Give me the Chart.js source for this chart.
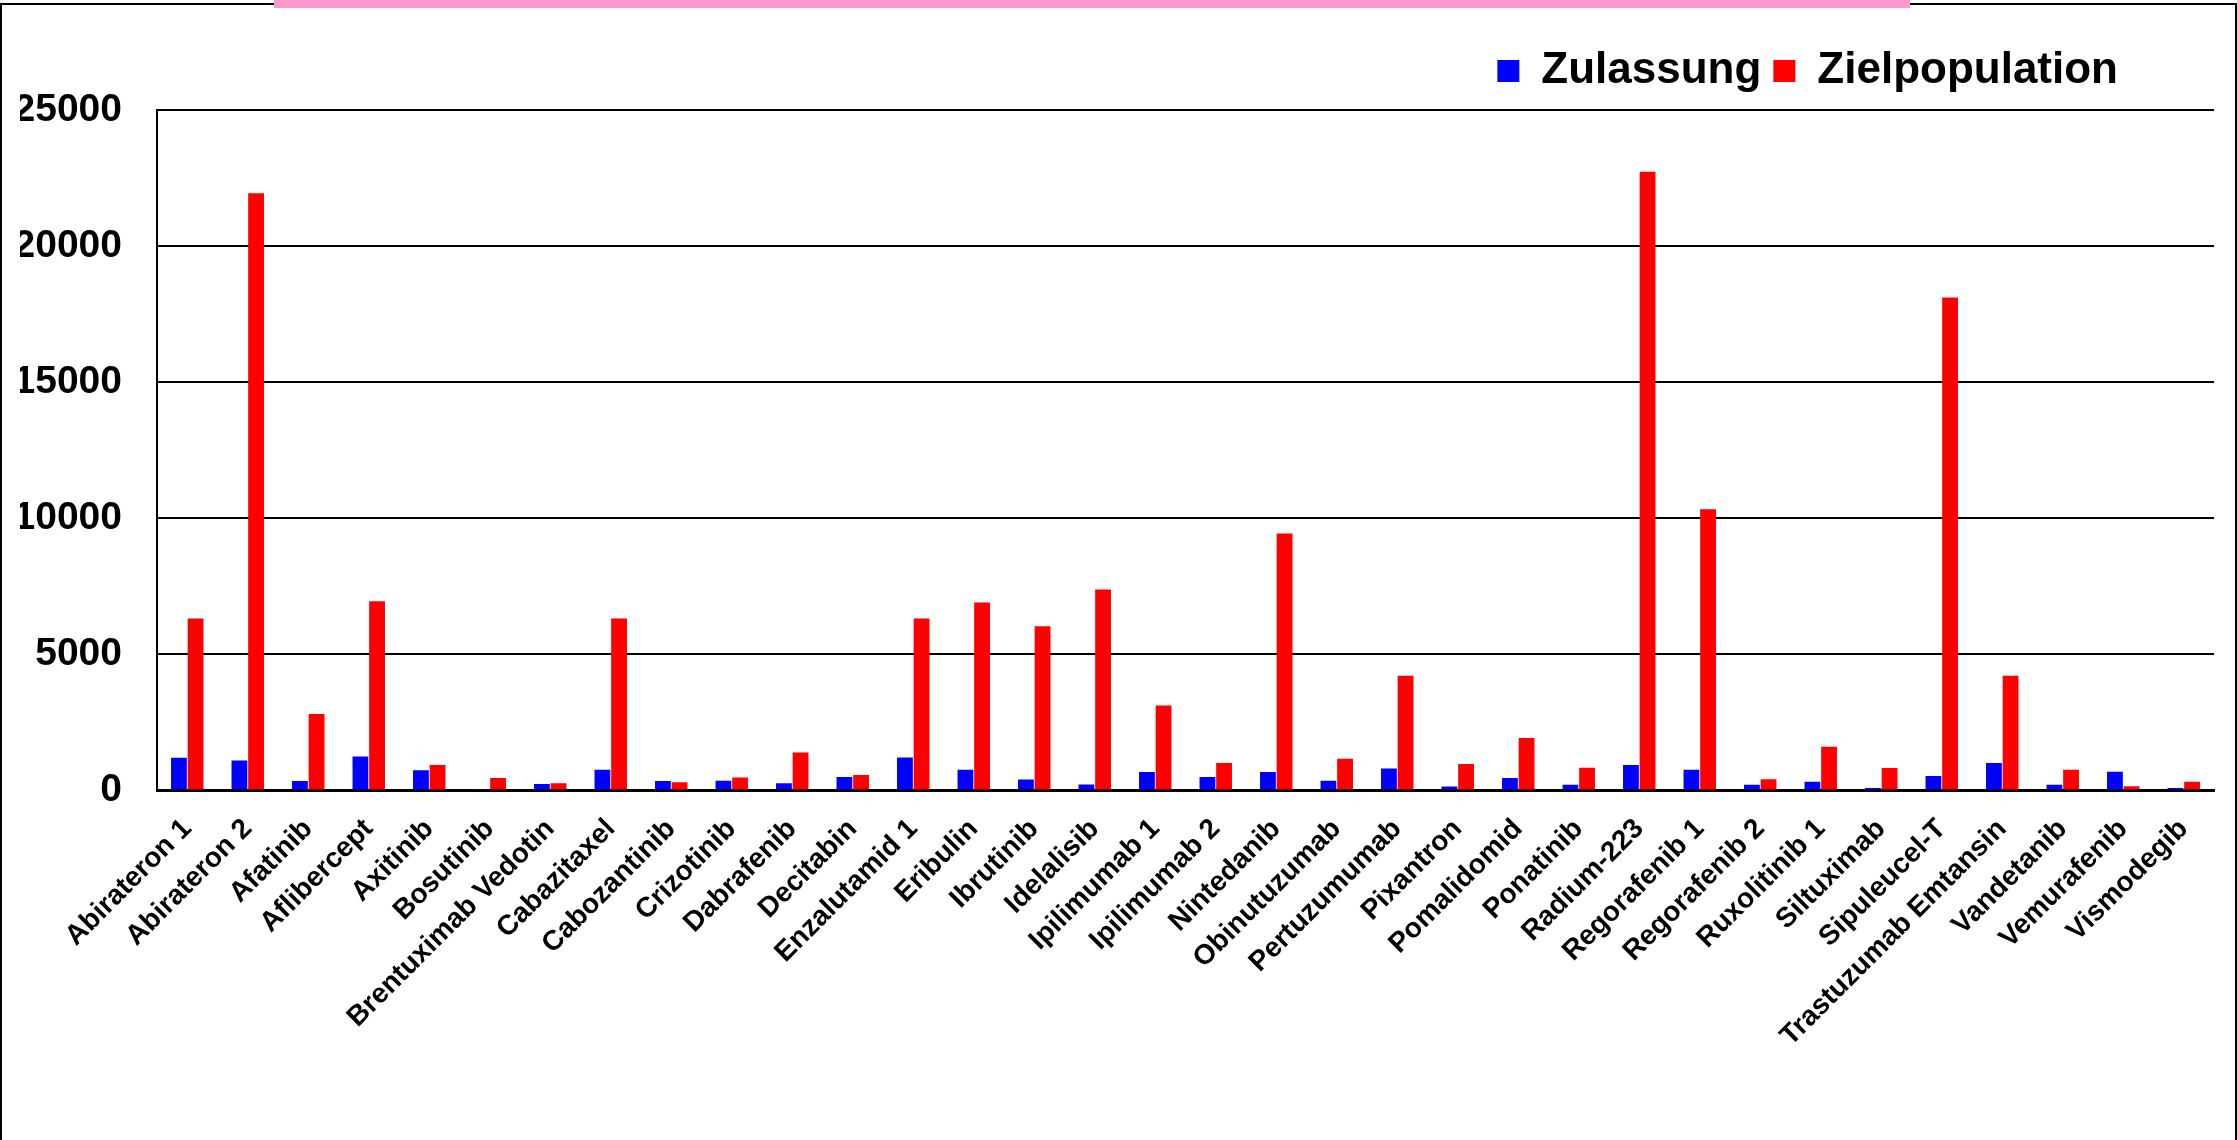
<!DOCTYPE html>
<html>
<head>
<meta charset="utf-8">
<script src="https://cdn.jsdelivr.net/npm/chart.js@4"></script>
<style>
	body { margin: 0; background: #fff; }
	#wrap { position: relative; width: 2237px; height: 1140px; overflow: hidden; }
	#frame { position: absolute; left: 0; top: 3px; width: 2233px; height: 1200px; border: 2px solid #000; border-bottom: none; pointer-events: none; }
	#topbar { position: absolute; left: 274px; top: 0; width: 1636px; height: 8px; background: #ff99cc; pointer-events: none; }
</style>
</head>
<body>
<div id="wrap">
	<canvas id="graph" width="2237" height="1140"></canvas>
	<div id="frame"></div>
	<div id="topbar"></div>
</div>
<script>
	const categories = [
		"Abirateron 1", "Abirateron 2", "Afatinib", "Aflibercept", "Axitinib", "Bosutinib",
		"Brentuximab Vedotin", "Cabazitaxel", "Cabozantinib", "Crizotinib", "Dabrafenib",
		"Decitabin", "Enzalutamid 1", "Eribulin", "Ibrutinib", "Idelalisib", "Ipilimumab 1",
		"Ipilimumab 2", "Nintedanib", "Obinutuzumab", "Pertuzumumab", "Pixantron",
		"Pomalidomid", "Ponatinib", "Radium-223", "Regorafenib 1", "Regorafenib 2",
		"Ruxolitinib 1", "Siltuximab", "Sipuleucel-T", "Trastuzumab Emtansin", "Vandetanib",
		"Vemurafenib", "Vismodegib"
	];

	const zulassung = [
		1200, 1100, 350, 1250, 740, 50, 240, 760, 350, 360, 270, 500, 1210, 760, 400, 220, 680,
		500, 680, 360, 810, 150, 460, 210, 940, 760, 210, 320, 90, 530, 1010, 210, 690, 90
	];

	const zielpopulation = [
		6320, 21940, 2810, 6950, 940, 460, 270, 6320, 300, 480, 1400, 570, 6320, 6910, 6030, 7380, 3120,
		1010, 9440, 1170, 4220, 970, 1930, 840, 22730, 10330, 410, 1610, 830, 18110, 4220, 760, 160, 320
	];

	const yTicks = [0, 5000, 10000, 15000, 20000, 25000];

	const fontFamily = '"Liberation Sans", Arial, sans-serif';

	// nudge the legend to where it sits in the original
	const legendShift = {
		id: 'legendShift',
		afterLayout(chart) {
			const legend = chart.legend;
			legend.left -= 84;
			legend.right -= 84;
			legend.top -= 7;
			legend.bottom -= 7;
		}
	};

	new Chart(document.querySelector('#graph'), {
		type: 'bar',
		data: {
			labels: categories,
			datasets: [{
				label: 'Zulassung',
				data: zulassung,
				backgroundColor: '#0000ff',
				borderWidth: 0,
			}, {
				label: 'Zielpopulation',
				data: zielpopulation,
				backgroundColor: '#ff0000',
				borderWidth: 0,
			}]
		},
		options: {
			responsive: false,
			animation: false,
			devicePixelRatio: 1,
			categoryPercentage: 0.55,
			barPercentage: 0.95,
			layout: {
				padding: {top: 44, left: 20, right: 23, bottom: 65}
			},
			plugins: {
				legend: {
					position: 'top',
					align: 'end',
					labels: {
						boxWidth: 22,
						boxHeight: 22,
						padding: 12,
						color: '#000',
						font: {family: fontFamily, size: 44, weight: 'bold'}
					}
				},
				tooltip: {
					enabled: false
				}
			},
			scales: {
				x: {
					afterFit: (axis) => {
						axis.paddingLeft = 0;
						axis.paddingRight = 0;
					},
					grid: {
						display: false,
						drawTicks: false
					},
					border: {
						color: '#000',
						width: 3
					},
					ticks: {
						autoSkip: false,
						minRotation: 45,
						maxRotation: 45,
						padding: 22,
						color: '#000',
						font: {family: fontFamily, size: 28, weight: 'bold'}
					}
				},
				y: {
					min: 0,
					max: 25000,
					afterBuildTicks: (axis) => {
						axis.ticks = yTicks.map(v => ({value: v}));
					},
					afterFit: (axis) => {
						axis.width = 137;
					},
					grid: {
						color: '#000',
						lineWidth: 2,
						drawTicks: false
					},
					border: {
						color: '#000',
						width: 2
					},
					ticks: {
						padding: 35,
						color: '#000',
						font: {family: fontFamily, size: 39, weight: 'bold'},
						callback: (value) => String(value)
					}
				}
			}
		},
		plugins: [legendShift]
	});
</script>
</body>
</html>
